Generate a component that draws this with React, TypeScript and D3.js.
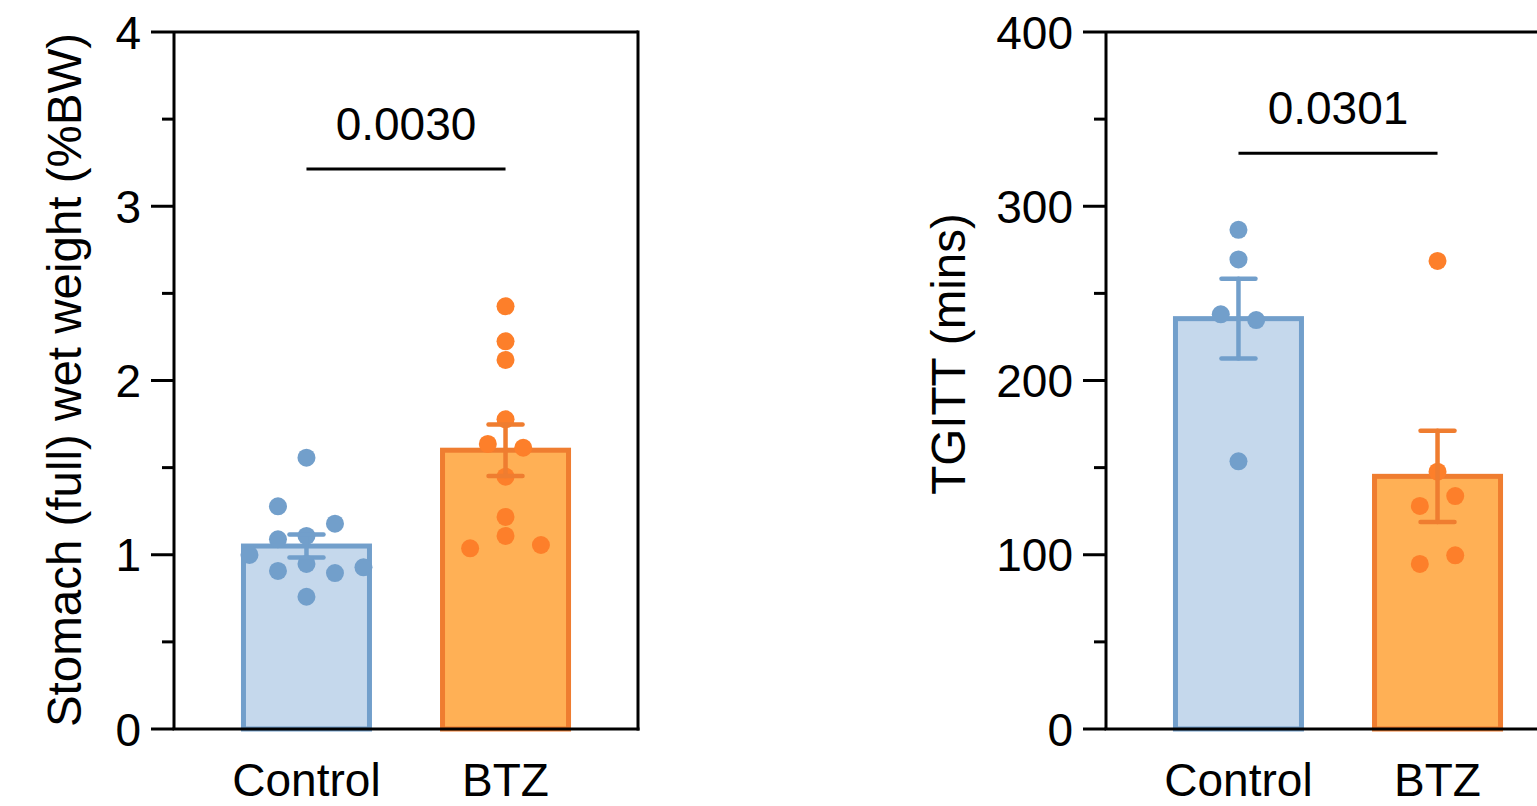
import React from "react";
import * as d3 from "d3";

const groups = ["Control", "BTZ"];

// Panel A: Stomach (full) wet weight (%BW)
const stomachControl = [1.557, 1.278, 1.178, 1.108, 1.089, 0.999, 0.947, 0.928, 0.907, 0.895, 0.759];
const stomachBTZ = [2.426, 2.225, 2.118, 1.777, 1.636, 1.614, 1.448, 1.217, 1.108, 1.037, 1.056];
const stomachMean = [1.05, 1.6];
const stomachSEM = [0.066, 0.148];
const stomachTicks = [0, 1, 2, 3, 4];
const stomachP = "0.0030";
const stomachBracket = 3.214;

// Panel B: TGITT (mins)
const tgittControl = [286.5, 269.5, 238, 234.7, 153.6];
const tgittBTZ = [268.6, 147.7, 133.7, 128, 99.7, 94.7];
const tgittMean = [235.5, 145];
const tgittSEM = [22.9, 26.2];
const tgittTicks = [0, 100, 200, 300, 400];
const tgittP = "0.0301";
const tgittBracket = 330.4;

// horizontal scatter offsets (layout, px)
const stomachControlJitter = [0, -28.5, 28.5, 0, -28.5, -57, 0, 57, -28.5, 28.5, 0];
const stomachBTZJitter = [0, 0, 0, 0, -17.7, 17.7, 0, 0, 0, -35.4, 35.4];
const tgittControlJitter = [0, 0, -17.7, 17.7, 0];
const tgittBTZJitter = [0, 0, 17.7, -17.7, 17.7, -17.7];

const FONT = "'Liberation Sans', Arial, Helvetica, sans-serif";
const FS = 46;
const TFS = 47.5;
const TOP = 32;
const BOTTOM = 729;
const PW = 464;

const fills = ["#C5D8EC", "#FFB055"];
const strokes = ["#729FCB", "#EF7D30"];
const dots = ["#729FCB", "#FD7F2A"];

type PanelProps = {
  x0: number;
  yMax: number;
  ticks: number[];
  title: string;
  titleX: number;
  titleY: number;
  points: number[][];
  jitter: number[][];
  means: number[];
  sems: number[];
  pText: string;
  bracket: number;
};

function Panel(p: PanelProps) {
  const y = d3.scaleLinear().domain([0, p.yMax]).range([BOTTOM, TOP]);
  const x = d3.scaleBand<string>().domain(groups).range([0, PW]).paddingInner(0.367).paddingOuter(0.349);
  const bw = x.bandwidth();
  const minor = d3.range(0, p.ticks.length - 1).map((i) => (p.ticks[i] + p.ticks[i + 1]) / 2);
  const cx = (g: string) => (x(g) as number) + bw / 2;
  return (
    <g transform={`translate(${p.x0},0)`}>
      {groups.map((g, i) => (
        <rect
          key={g}
          x={x(g)}
          y={y(p.means[i])}
          width={bw}
          height={y(0) - y(p.means[i])}
          fill={fills[i]}
          stroke={strokes[i]}
          strokeWidth={5}
        />
      ))}
      {groups.map((g, i) =>
        p.points[i].map((v, j) => (
          <circle key={g + j} cx={cx(g) + p.jitter[i][j]} cy={y(v)} r={9} fill={dots[i]} />
        ))
      )}
      {groups.map((g, i) => {
        const c = cx(g);
        const hi = y(p.means[i] + p.sems[i]);
        const lo = y(p.means[i] - p.sems[i]);
        return (
          <g key={"e" + g} stroke={strokes[i]} strokeWidth={4.5} strokeLinecap="round">
            <line x1={c} x2={c} y1={hi} y2={lo} />
            <line x1={c - 17} x2={c + 17} y1={hi} y2={hi} />
            <line x1={c - 17} x2={c + 17} y1={lo} y2={lo} />
          </g>
        );
      })}
      <g stroke="#000" strokeWidth={3} fill="none">
        <line x1={0} x2={PW} y1={TOP} y2={TOP} />
        <line x1={0} x2={PW} y1={BOTTOM} y2={BOTTOM} strokeLinecap="square" />
        <line x1={0} x2={0} y1={TOP} y2={BOTTOM} />
        <line x1={PW} x2={PW} y1={TOP} y2={BOTTOM} strokeLinecap="square" />
        {p.ticks.map((t) => (
          <line key={"t" + t} x1={-23} x2={0} y1={y(t)} y2={y(t)} />
        ))}
        {minor.map((t) => (
          <line key={"m" + t} x1={-12} x2={0} y1={y(t)} y2={y(t)} />
        ))}
      </g>
      {p.ticks.map((t) => (
        <text
          key={"l" + t}
          x={-33}
          y={y(t)}
          dy="0.36em"
          textAnchor="end"
          fontFamily={FONT}
          fontSize={FS}
          fill="#000"
        >
          {t}
        </text>
      ))}
      {groups.map((g) => (
        <text key={"x" + g} x={cx(g)} y={796} textAnchor="middle" fontFamily={FONT} fontSize={FS} fill="#000">
          {g}
        </text>
      ))}
      <text
        transform={`translate(${p.titleX},${p.titleY}) rotate(-90)`}
        textAnchor="middle"
        fontFamily={FONT}
        fontSize={TFS}
        fill="#000"
      >
        {p.title}
      </text>
      <line
        x1={cx(groups[0])}
        x2={cx(groups[1])}
        y1={y(p.bracket)}
        y2={y(p.bracket)}
        stroke="#000"
        strokeWidth={3}
      />
      <text
        x={(cx(groups[0]) + cx(groups[1])) / 2}
        y={y(p.bracket) - 29}
        textAnchor="middle"
        fontFamily={FONT}
        fontSize={FS}
        fill="#000"
      >
        {p.pText}
      </text>
    </g>
  );
}

export default function App() {
  return (
    <svg
      width={1537}
      height={806}
      style={{ position: "absolute", left: 0, top: 0, background: "#fff" }}
    >
      <rect width={1537} height={806} fill="#fff" />
      <Panel
        x0={174}
        yMax={4}
        ticks={stomachTicks}
        title="Stomach (full) wet weight (%BW)"
        titleX={-93}
        titleY={380}
        points={[stomachControl, stomachBTZ]}
        jitter={[stomachControlJitter, stomachBTZJitter]}
        means={stomachMean}
        sems={stomachSEM}
        pText={stomachP}
        bracket={stomachBracket}
      />
      <Panel
        x0={1106}
        yMax={400}
        ticks={tgittTicks}
        title="TGITT (mins)"
        titleX={-141}
        titleY={354}
        points={[tgittControl, tgittBTZ]}
        jitter={[tgittControlJitter, tgittBTZJitter]}
        means={tgittMean}
        sems={tgittSEM}
        pText={tgittP}
        bracket={tgittBracket}
      />
    </svg>
  );
}
